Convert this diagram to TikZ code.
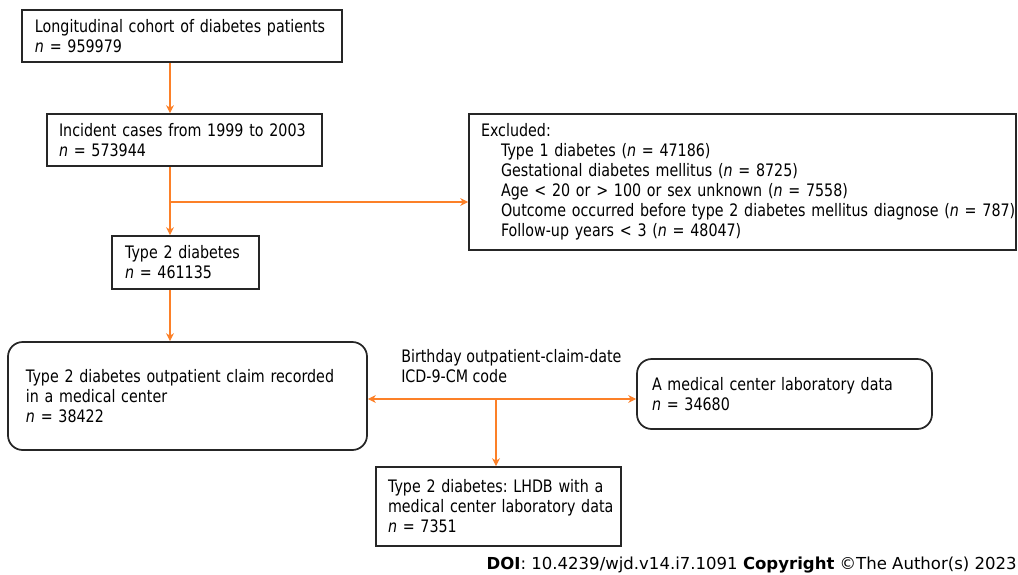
\documentclass[tikz,border=0pt]{standalone}
\usepackage{fontspec}
\setmainfont{DejaVu Sans}[FakeStretch=0.83]
\newfontfamily\footfont{DejaVu Sans}
\usetikzlibrary{arrows.meta}
\definecolor{arr}{RGB}{252,128,40}
\newcommand\oneline[1]{\mbox{#1}}
\frenchspacing
\begin{document}
\begin{tikzpicture}[x=0.75pt,y=-0.75pt,
  every node/.style={font=\fontsize{12.9}{15}\selectfont},
  box/.style={draw=black!85,line width=1.3pt,align=left,inner ysep=0pt},
  rbox/.style={box,rounded corners=11pt},
  conn/.style={draw=arr,line width=0.8pt,-{Stealth[length=6pt,width=6pt]}},
  conn2/.style={draw=arr,line width=0.8pt,{Stealth[length=6pt,width=6pt]}-{Stealth[length=6pt,width=6pt]}}]
\useasboundingbox (0,0) rectangle (1018,575);

\node[box,minimum width=240pt,minimum height=39pt,text width=220.5pt,inner xsep=9.75pt] (b1) at (182,36)
  {\oneline{Longitudinal cohort of diabetes patients}\\\oneline{\textit{n} = 959979}};
\node[box,minimum width=206.25pt,minimum height=39pt,text width=188.25pt,inner xsep=9pt] (b2) at (184.5,140)
  {\oneline{Incident cases from 1999 to 2003}\\\oneline{\textit{n} = 573944}};
\node[box,minimum width=110.25pt,minimum height=39.75pt,text width=90.75pt,inner xsep=9.75pt] (b3) at (185.5,262.5)
  {\oneline{Type 2 diabetes}\\\oneline{\textit{n} = 461135}};
\node[box,minimum width=410.25pt,minimum height=102pt,text width=392.25pt,inner xsep=9pt] (ex) at (742.5,182)
  {\oneline{Excluded:}\\
   \oneline{\hspace*{15pt}Type 1 diabetes (\textit{n} = 47186)}\\
   \oneline{\hspace*{15pt}Gestational diabetes mellitus (\textit{n} = 8725)}\\
   \oneline{\hspace*{15pt}Age < 20 or > 100 or sex unknown (\textit{n} = 7558)}\\
   \oneline{\hspace*{15pt}Outcome occurred before type 2 diabetes mellitus diagnose (\textit{n} = 787)}\\
   \oneline{\hspace*{15pt}Follow-up years < 3 (\textit{n} = 48047)}};
\node[rbox,minimum width=269.25pt,minimum height=81pt,text width=242.25pt,inner xsep=13.5pt] (b4) at (187.5,396)
  {\oneline{Type 2 diabetes outpatient claim recorded}\\\oneline{in a medical center}\\\oneline{\textit{n} = 38422}};
\node[rbox,minimum width=221.25pt,minimum height=52.5pt,text width=198.75pt,inner xsep=11.25pt] (b5) at (784.5,394)
  {\oneline{A medical center laboratory data}\\\oneline{\textit{n} = 34680}};
\node[box,minimum width=183.75pt,minimum height=59.25pt,text width=165.75pt,inner xsep=9pt] (b6) at (498.5,506.5)
  {\oneline{Type 2 diabetes: LHDB with a}\\\oneline{medical center laboratory data}\\\oneline{\textit{n} = 7351}};
\node[anchor=west,align=left,inner sep=0pt] (lbl) at (401,366)
  {Birthday outpatient-claim-date\\ICD-9-CM code};
\node[anchor=east,inner sep=0pt,font=\footfont\fontsize{12.4}{15}\selectfont] (foot) at (1017,565)
  {\textbf{DOI}: 10.4239/wjd.v14.i7.1091 \textbf{Copyright} \textcopyright{}The Author(s) 2023};

\coordinate (sp) at (170,0);
\coordinate (br) at (170,202);
\coordinate (mid) at (496,399);

\draw[conn] (b1.south -| sp) -- (b2.north -| sp);
\draw[conn] (b2.south -| sp) -- (b3.north -| sp);
\draw[conn] (br) -- (ex.west |- br);
\draw[conn] (b3.south -| sp) -- (b4.north -| sp);
\draw[conn2] (b4.east |- mid) -- (b5.west |- mid);
\draw[conn] (mid) -- (b6.north -| mid);
\end{tikzpicture}
\end{document}
